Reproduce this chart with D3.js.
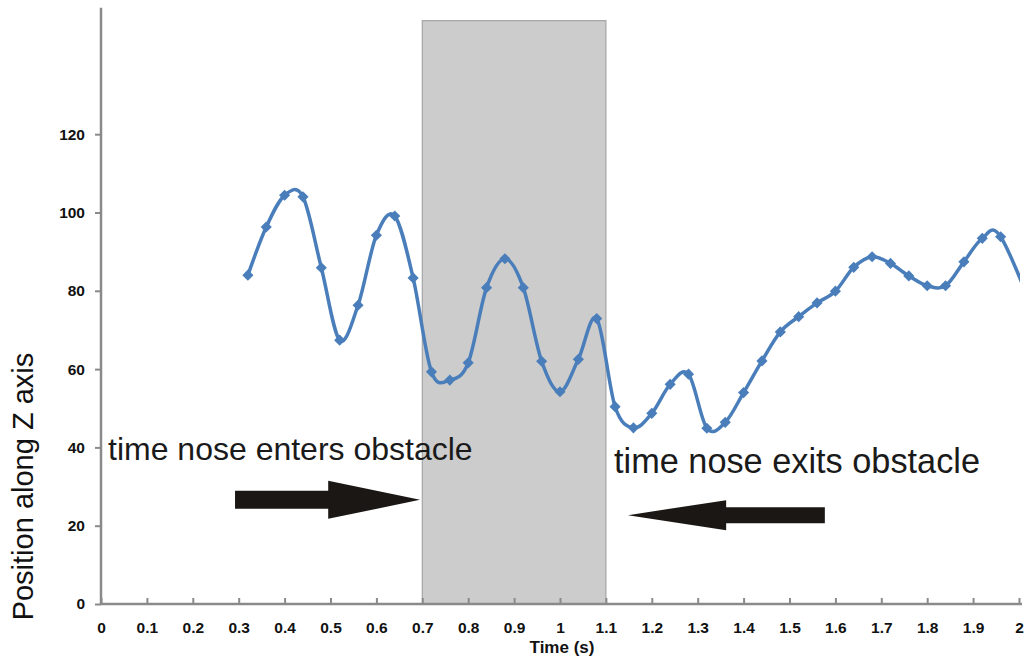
<!DOCTYPE html>
<html>
<head>
<meta charset="utf-8">
<script src="https://cdn.jsdelivr.net/npm/d3@7"></script>
<style>
  html, body { margin: 0; padding: 0; background: #ffffff; }
  svg { display: block; }
</style>
</head>
<body>
<svg id="chart" width="1024" height="660"></svg>
<script>
// ---- data ----
const times = [0.32, 0.36, 0.40, 0.44, 0.48, 0.52, 0.56, 0.60, 0.64, 0.68,
               0.72, 0.76, 0.80, 0.84, 0.88, 0.92, 0.96, 1.00, 1.04, 1.08,
               1.12, 1.16, 1.20, 1.24, 1.28, 1.32, 1.36, 1.40, 1.44, 1.48,
               1.52, 1.56, 1.60, 1.64, 1.68, 1.72, 1.76, 1.80, 1.84, 1.88,
               1.92, 1.96, 2.04];
const positions = [84.0, 96.3, 104.4, 104.0, 85.9, 67.4, 76.3, 94.2, 99.1, 83.3,
                   59.3, 57.2, 61.6, 80.8, 88.2, 80.8, 62.0, 54.2, 62.5, 72.9,
                   50.4, 45.0, 48.7, 56.1, 58.7, 44.9, 46.4, 54.0, 62.1, 69.5,
                   73.4, 76.9, 79.9, 86.0, 88.7, 87.0, 83.8, 81.3, 81.3, 87.4,
                   93.4, 93.8, 72.0];
const xTickValues = [0, 0.1, 0.2, 0.3, 0.4, 0.5, 0.6, 0.7, 0.8, 0.9, 1,
                     1.1, 1.2, 1.3, 1.4, 1.5, 1.6, 1.7, 1.8, 1.9, 2];
const xTickLabels = ["0", "0.1", "0.2", "0.3", "0.4", "0.5", "0.6", "0.7", "0.8", "0.9", "1",
                     "1.1", "1.2", "1.3", "1.4", "1.5", "1.6", "1.7", "1.8", "1.9", "2"];
const yTickValues = [0, 20, 40, 60, 80, 100, 120];
const obstacleSpan = [0.7, 1.1];      // time window of the obstacle
const obstacleTop = 149;
const xTitle = "Time (s)";
const yTitle = "Position along Z axis";
const enterLabel = "time nose enters obstacle";
const exitLabel = "time nose exits obstacle";
// arrows: [tail time, head-base time, tip time, position]
const enterArrow = [0.292, 0.495, 0.695, 26.6];
const exitArrow = [1.577, 1.362, 1.148, 22.7];

// ---- layout ----
const svg = d3.select("#chart");
const x = d3.scaleLinear().domain([0, 2]).range([101, 1019]);
const y = d3.scaleLinear().domain([0, 150]).range([604, 604 - 150 * 3.915]);
const axisColor = "#8a8a8a";
const lineColor = "#4a7ebb";
const font = "'Liberation Sans', Arial, sans-serif";

svg.append("defs").append("clipPath").attr("id", "plotClip")
  .append("rect").attr("x", x(0)).attr("y", 0)
  .attr("width", x(2) - x(0) + 1).attr("height", y(0));

// obstacle rectangle
svg.append("rect")
  .attr("x", x(obstacleSpan[0]))
  .attr("y", y(obstacleTop))
  .attr("width", x(obstacleSpan[1]) - x(obstacleSpan[0]))
  .attr("height", y(0) - y(obstacleTop))
  .attr("fill", "#cccccc")
  .attr("stroke", "#a5a5a5")
  .attr("stroke-width", 1.2);

// y axis
const yAxis = svg.append("g").attr("transform", `translate(${x(0)},0)`)
  .call(d3.axisLeft(y).tickValues(yTickValues).tickSize(6).tickPadding(10));
yAxis.select(".domain").remove();
yAxis.selectAll(".tick line").attr("stroke", axisColor).attr("stroke-width", 2);
yAxis.selectAll(".tick text")
  .attr("font-family", font)
  .attr("font-size", 15.5).attr("font-weight", "bold").attr("fill", "#111");
svg.append("line")
  .attr("x1", x(0)).attr("x2", x(0))
  .attr("y1", y(0) + 1).attr("y2", y(152.3))
  .attr("stroke", axisColor).attr("stroke-width", 2.5);

// x axis
const xAxis = svg.append("g").attr("transform", `translate(0,${y(0)})`)
  .call(d3.axisBottom(x).tickValues(xTickValues)
    .tickFormat((d, i) => xTickLabels[i]).tickSize(-6));
xAxis.select(".domain").remove();
xAxis.selectAll(".tick line").attr("stroke", axisColor).attr("stroke-width", 2);
xAxis.selectAll(".tick text")
  .attr("y", 29).attr("dy", 0)
  .attr("font-family", font)
  .attr("font-size", 15.5).attr("font-weight", "bold").attr("fill", "#111");
svg.append("line")
  .attr("x1", x(0) - 1).attr("x2", x(2) + 3)
  .attr("y1", y(0)).attr("y2", y(0))
  .attr("stroke", axisColor).attr("stroke-width", 2.5);

// axis titles
svg.append("text")
  .attr("x", 562).attr("y", 653)
  .attr("text-anchor", "middle")
  .attr("font-family", font)
  .attr("font-size", 17).attr("font-weight", "bold").attr("fill", "#111")
  .text(xTitle);
svg.append("text")
  .attr("transform", `translate(33,${y(30)}) rotate(-90)`)
  .attr("text-anchor", "middle")
  .attr("font-family", font)
  .attr("font-size", 29).attr("fill", "#111")
  .text(yTitle);

// data line
const pts = times.map((t, i) => ({ t, v: positions[i] }));
const line = d3.line()
  .x(d => x(d.t)).y(d => y(d.v))
  .curve(d3.curveCatmullRom.alpha(0));
const plot = svg.append("g").attr("clip-path", "url(#plotClip)");
plot.append("path")
  .datum(pts)
  .attr("d", line)
  .attr("fill", "none")
  .attr("stroke", lineColor)
  .attr("stroke-width", 3.5);
plot.selectAll("path.marker")
  .data(pts.filter(d => d.t <= 2))
  .join("path")
  .attr("class", "marker")
  .attr("d", d3.symbol(d3.symbolSquare, 62))
  .attr("transform", d => `translate(${x(d.t)},${y(d.v)}) rotate(45)`)
  .attr("fill", lineColor);

// annotations
svg.append("text")
  .attr("x", 108).attr("y", 460)
  .attr("font-family", font)
  .attr("font-size", 32).attr("fill", "#1a1a1a")
  .text(enterLabel);
svg.append("text")
  .attr("x", 614).attr("y", 473)
  .attr("font-family", font)
  .attr("font-size", 34.3).attr("fill", "#1a1a1a")
  .text(exitLabel);

function arrow(a, shaftHalf, headHalf) {
  const [tail, base, tip, v] = a;
  const cy = y(v);
  const xt = x(tail), xb = x(base), xp = x(tip);
  return `M${xt},${cy - shaftHalf}L${xb},${cy - shaftHalf}L${xb},${cy - headHalf}` +
         `L${xp},${cy}L${xb},${cy + headHalf}L${xb},${cy + shaftHalf}L${xt},${cy + shaftHalf}Z`;
}
svg.append("path").attr("d", arrow(enterArrow, 9, 19)).attr("fill", "#1b1714");
svg.append("path").attr("d", arrow(exitArrow, 8, 15)).attr("fill", "#1b1714");
</script>
</body>
</html>
